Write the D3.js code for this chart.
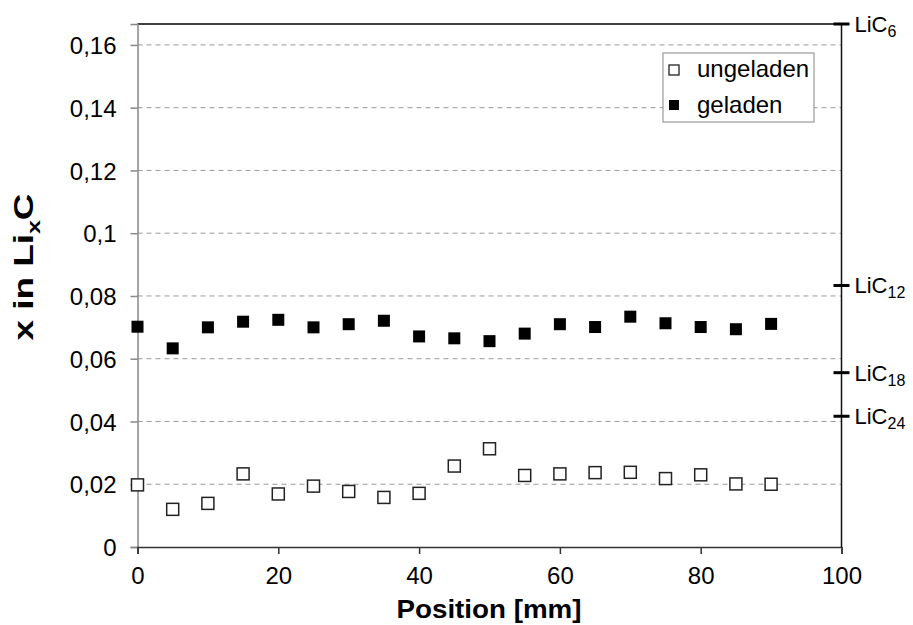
<!DOCTYPE html>
<meta charset="utf-8">
<style>
body { margin: 0; background: #fff; }
svg { font-family: "Liberation Sans", Arial, Helvetica, sans-serif; }
.grid line { stroke: #999; stroke-dasharray: 5,4; stroke-width: 1px; }
.tick text { font-size: 24px; fill: #000; }
</style>
<body>
<script src="https://d3js.org/d3.v7.min.js"></script>
<script>
// Positions along the electrode [mm]
var positions = [0, 5, 10, 15, 20, 25, 30, 35, 40, 45, 50, 55, 60, 65, 70, 75, 80, 85, 90];
// x in LixC, uncharged
var ungeladen = [0.0198, 0.0120, 0.0139, 0.0233, 0.0169, 0.0194, 0.0177, 0.0158, 0.0171, 0.0258,
                 0.0313, 0.0228, 0.0233, 0.0237, 0.0238, 0.0218, 0.0230, 0.0201, 0.0200];
// x in LixC, charged
var geladen = [0.0702, 0.0633, 0.0700, 0.0718, 0.0724, 0.0700, 0.0710, 0.0721, 0.0671, 0.0665,
               0.0656, 0.0680, 0.0710, 0.0701, 0.0734, 0.0713, 0.0701, 0.0694, 0.0711];
var xTicks = [0, 20, 40, 60, 80, 100];
var yTicks = [0, 0.02, 0.04, 0.06, 0.08, 0.1, 0.12, 0.14, 0.16];
// LiC_n stages on the right axis (x = 1/n)
var stages = [6, 12, 18, 24];

var width = 913, height = 625;
var margin = {left: 137.5, right: 71.5, top: 24, bottom: 78};

var svg = d3.select("body").append("svg")
    .attr("width", width)
    .attr("height", height);

var x = d3.scaleLinear().domain([0, 100]).range([margin.left, width - margin.right]);
var y = d3.scaleLinear().domain([0, 1 / 6]).range([height - margin.bottom, margin.top]);

var fmt = function(d) { return String(d).replace(".", ","); };

// dashed grid
svg.append("g")
    .attr("class", "grid")
  .selectAll("line")
    .data(yTicks.filter(function(d) { return d > 0; }))
  .enter().append("line")
    .attr("x1", x(0)).attr("x2", x(100))
    .attr("y1", function(d) { return y(d); })
    .attr("y2", function(d) { return y(d); });

// top border
svg.append("line")
    .attr("x1", x(0)).attr("x2", x(100))
    .attr("y1", y(1 / 6)).attr("y2", y(1 / 6))
    .attr("stroke", "#000").attr("stroke-width", 1.5);

// left axis
var yAxis = svg.append("g")
    .attr("transform", "translate(" + x(0) + ",0)")
    .call(d3.axisLeft(y).tickValues(yTicks).tickFormat(fmt).tickSize(7).tickPadding(14));
yAxis.select(".domain").attr("stroke", "#888").attr("stroke-width", 1.5);
yAxis.selectAll(".tick line").attr("stroke", "#888").attr("stroke-width", 1.5);
yAxis.selectAll("text").attr("dy", "0.36em");

// bottom axis
var xAxis = svg.append("g")
    .attr("transform", "translate(0," + y(0) + ")")
    .call(d3.axisBottom(x).tickValues(xTicks).tickSize(7).tickPadding(13));
xAxis.select(".domain").attr("stroke", "#333").attr("stroke-width", 1.5);
xAxis.selectAll(".tick line").attr("stroke", "#333").attr("stroke-width", 1.5);

// right axis with LiC_n stages
svg.append("line")
    .attr("x1", x(100)).attr("x2", x(100))
    .attr("y1", y(0)).attr("y2", y(1 / 6))
    .attr("stroke", "#111").attr("stroke-width", 1.5);

var stage = svg.append("g").selectAll("g")
    .data(stages)
  .enter().append("g")
    .attr("transform", function(n) { return "translate(" + x(100) + "," + y(1 / n) + ")"; });
stage.append("line")
    .attr("x1", -8).attr("x2", 8)
    .attr("stroke", "#000").attr("stroke-width", 3);
var stageText = stage.append("text")
    .attr("x", 13).attr("dy", "0.36em")
    .attr("font-size", 22);
stageText.append("tspan").text("LiC");
stageText.append("tspan")
    .attr("font-size", 16).attr("dy", 5)
    .text(function(n) { return n; });

// markers
var size = 12;
svg.append("g").selectAll("rect")
    .data(ungeladen)
  .enter().append("rect")
    .attr("x", function(d, i) { return x(positions[i]) - size / 2; })
    .attr("y", function(d) { return y(d) - size / 2; })
    .attr("width", size).attr("height", size)
    .attr("fill", "#fff").attr("stroke", "#222").attr("stroke-width", 1.5);

svg.append("g").selectAll("rect")
    .data(geladen)
  .enter().append("rect")
    .attr("x", function(d, i) { return x(positions[i]) - size / 2; })
    .attr("y", function(d) { return y(d) - size / 2; })
    .attr("width", size).attr("height", size)
    .attr("fill", "#000");

// legend
var legend = svg.append("g").attr("transform", "translate(663,53)");
legend.append("rect")
    .attr("width", 151).attr("height", 69)
    .attr("fill", "#fff").attr("stroke", "#999").attr("stroke-width", 1.2);
legend.append("rect")
    .attr("x", 6).attr("y", 12).attr("width", 10).attr("height", 10)
    .attr("fill", "#fff").attr("stroke", "#222").attr("stroke-width", 1.3);
legend.append("rect")
    .attr("x", 6).attr("y", 47).attr("width", 10).attr("height", 10)
    .attr("fill", "#000");
legend.append("text").attr("x", 34).attr("y", 24).attr("font-size", 24).text("ungeladen");
legend.append("text").attr("x", 34).attr("y", 60).attr("font-size", 24).text("geladen");

// axis titles
svg.append("text")
    .attr("x", (x(0) + x(100)) / 2 - 0.5).attr("y", 618)
    .attr("text-anchor", "middle")
    .attr("font-size", 26).attr("font-weight", "bold")
    .attr("textLength", 185).attr("lengthAdjust", "spacingAndGlyphs")
    .text("Position [mm]");

var yTitle = svg.append("text")
    .attr("transform", "translate(33,267) rotate(-90)")
    .attr("text-anchor", "middle")
    .attr("font-size", 28).attr("font-weight", "bold")
    .attr("textLength", 147).attr("lengthAdjust", "spacingAndGlyphs");
yTitle.append("tspan").text("x in Li");
yTitle.append("tspan").attr("font-size", 19).attr("dy", 7).text("x");
yTitle.append("tspan").attr("dy", -7).text("C");
</script>
